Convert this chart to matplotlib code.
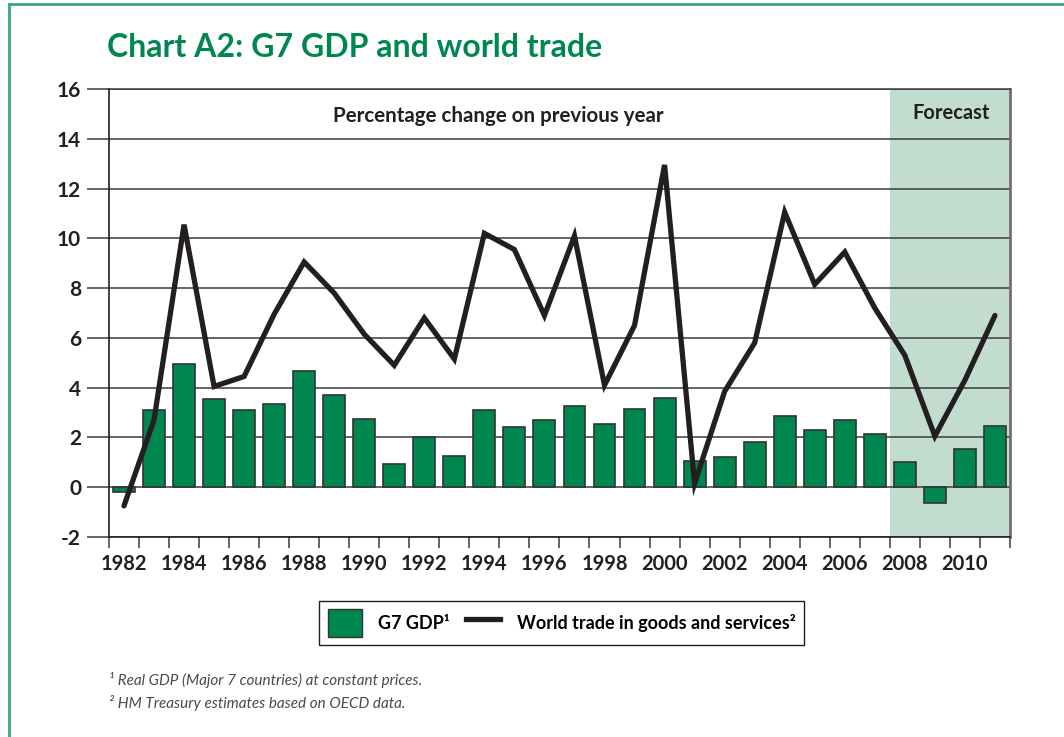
import matplotlib
matplotlib.use('Agg')
import matplotlib.pyplot as plt
from matplotlib.lines import Line2D
from matplotlib.patches import Patch

plt.rcParams['font.family'] = ['Lato', 'DejaVu Sans']

# ---------------------------------------------------------------
# data

years = list(range(1982, 2012))
g7_gdp = [-0.2, 3.1, 4.95, 3.55, 3.1, 3.35, 4.65, 3.7, 2.75, 0.95,
          2.0, 1.25, 3.1, 2.4, 2.7, 3.25, 2.55, 3.15, 3.6, 1.05,
          1.2, 1.8, 2.85, 2.3, 2.7, 2.15, 1.0, -0.65, 1.55, 2.45]
world_trade = [-0.75, 2.7, 10.55, 4.05, 4.45, 6.95, 9.05, 7.8, 6.15, 4.9,
               6.8, 5.15, 10.2, 9.55, 6.9, 10.1, 4.1, 6.5, 12.95, 0.15,
               3.85, 5.8, 11.05, 8.15, 9.45, 7.2, 5.3, 2.05, 4.3, 6.9]
forecast_start = 2008
y_ticks = list(range(-2, 17, 2))
year_labels = list(range(1982, 2011, 2))

green = '#00874f'
shade = '#c2ddd0'
dark = '#231f20'

# ---------------------------------------------------------------

fig = plt.figure(figsize=(10.64, 7.37), dpi=100)
ax = fig.add_axes([0.1024, 0.2714, 0.8468, 0.6078])

ax.axvspan(forecast_start - 0.5, years[-1] + 0.5, color=shade, zorder=0, lw=0)
for y in y_ticks:
    ax.axhline(y, color='#3a3a3a', lw=1.1, zorder=1)

ax.bar(years, g7_gdp, width=0.73, color=green, edgecolor='#333333',
       linewidth=1.2, zorder=2)
ax.plot(years, world_trade, color=dark, lw=3.8, zorder=3,
        solid_joinstyle='miter', solid_capstyle='round')

ax.set_xlim(years[0] - 0.5, years[-1] + 0.5)
ax.set_ylim(-2, 16)

ax.set_yticks(y_ticks)
ax.set_yticklabels([str(v) for v in y_ticks], fontsize=15, fontweight='bold',
                   color=dark)
ax.tick_params(axis='y', length=16, width=1.1, color='#3a3a3a', pad=4)

ax.set_xticks(year_labels)
ax.set_xticklabels([str(v) for v in year_labels], fontsize=14.5,
                   fontweight='bold', color=dark)
ax.set_xticks([y - 0.5 for y in years] + [years[-1] + 0.5], minor=True)
ax.tick_params(axis='x', which='major', length=0, pad=12)
ax.tick_params(axis='x', which='minor', length=8, width=1.1, color='#3a3a3a')

for side in ['left', 'bottom']:
    ax.spines[side].set_color(dark)
    ax.spines[side].set_linewidth(1.2)
ax.spines['top'].set_color('#3a3a3a')
ax.spines['top'].set_linewidth(1.1)
ax.spines['right'].set_color('#707070')
ax.spines['right'].set_linewidth(2)

ax.text(0.432, 0.940, 'Percentage change on previous year',
        transform=ax.transAxes, ha='center', va='center', fontsize=14.8,
        fontweight='bold', color=dark)
ax.text(0.935, 0.946, 'Forecast', transform=ax.transAxes, ha='center',
        va='center', fontsize=14.5, fontweight='bold', color=dark)

fig.text(0.1005, 0.935, 'Chart A2: G7 GDP and world trade', fontsize=23,
         fontweight='bold', color=green, ha='left', va='center')

handles = [Patch(facecolor=green, edgecolor='#333333', lw=1),
           Line2D([], [], color=dark, lw=3.8)]
fig.legend(handles, ['G7 GDP¹', 'World trade in goods and services²'],
           loc='center', bbox_to_anchor=(0.5277, 0.1547), ncol=2,
           fancybox=False, edgecolor=dark, framealpha=1,
           prop={'weight': 'bold', 'size': 13}, handlelength=1.9,
           handleheight=2.0, columnspacing=0.9, handletextpad=0.9,
           borderpad=0.45)

fig.text(0.102, 0.078, '¹ Real GDP (Major 7 countries) at constant prices.',
         fontsize=11, style='italic', color='#4a4a4a', va='center')
fig.text(0.102, 0.046, '² HM Treasury estimates based on OECD data.',
         fontsize=11, style='italic', color='#4a4a4a', va='center')

# green frame, top and left only
border = '#3fa878'
fig.add_artist(Line2D([0.008, 1.0], [0.9939, 0.9939], color=border, lw=2,
                      transform=fig.transFigure))
fig.add_artist(Line2D([0.008, 0.008], [0.0, 0.9939], color=border, lw=2,
                      transform=fig.transFigure))

fig.savefig('out.png', dpi=100)
